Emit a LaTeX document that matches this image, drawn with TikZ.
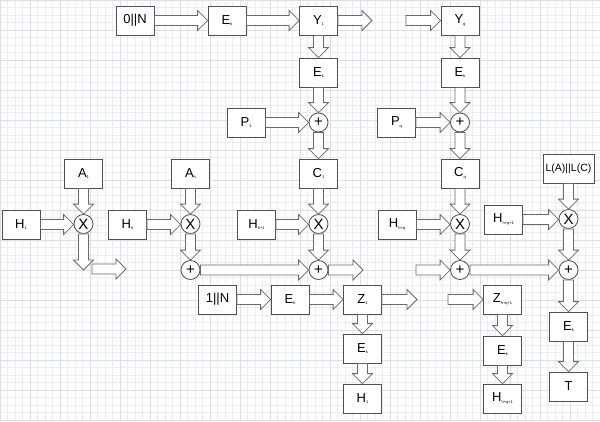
\documentclass[tikz,border=0pt]{standalone}
\usepackage{fontspec}
\setmainfont{Liberation Sans}
\usetikzlibrary{calc}
\definecolor{gridminor}{HTML}{ECECF7}
\definecolor{gridmajor}{HTML}{DCDCEE}
\definecolor{boxline}{HTML}{505050}
\definecolor{arrline}{HTML}{6A6A6A}
\newcommand\ssub[1]{\raisebox{-1.5pt}{\fontsize{4}{4}\selectfont #1}}
\newcommand\harr[2]{\draw[fatarrow] let \p1=(#1), \p2=(#2) in (\x1,\y1+5pt) -- (\x2-10pt,\y1+5pt) -- (\x2-10pt,\y1+10pt) -- (\x2,\y1) -- (\x2-10pt,\y1-10pt) -- (\x2-10pt,\y1-5pt) -- (\x1,\y1-5pt) -- cycle;}
\newcommand\varr[2]{\draw[fatarrow] let \p1=(#1), \p2=(#2) in (\x1-5pt,\y1) -- (\x1-5pt,\y2+10pt) -- (\x1-10pt,\y2+10pt) -- (\x1,\y2) -- (\x1+10pt,\y2+10pt) -- (\x1+5pt,\y2+10pt) -- (\x1+5pt,\y1) -- cycle;}
\tikzset{
  box/.style={draw=boxline, line width=0.8pt, fill=white, minimum width=38pt, minimum height=29pt, inner sep=1pt, font=\fontsize{13}{15}\selectfont},
  op/.style={draw=boxline, line width=0.8pt, fill=white, circle, minimum size=19pt, inner sep=0pt, font=\fontsize{15}{15}\selectfont},
  fatarrow/.style={draw=arrline, line width=0.8pt, fill=white, line join=miter},
}
\begin{document}
\begin{tikzpicture}[x=1pt,y=-1pt]
\useasboundingbox (0,0) rectangle (600,421);
\fill[white] (0,0) rectangle (600,421);
\draw[gridminor, line width=0.4pt, step=7.5pt] (0,0) grid (600,421);
\draw[gridmajor, line width=0.5pt, step=30pt] (0,0) grid (600,421);
% row 1
\node[box] (n0) at (135,20.5) {0||N};
\node[box] (e1) at (227,20.5) {E\ssub{k}};
\node[box] (y1) at (318.5,20.5) {Y\ssub{1}};
\node[box] (yq) at (460,20.5) {Y\ssub{q}};
\coordinate (y1out) at (372,20.5);
\coordinate (yqin) at (406,20.5);
\node[box] (ek1) at (318.5,72.5) {E\ssub{k}};
\node[box] (ekq) at (460,72.5) {E\ssub{k}};
\node[box] (p1) at (246,122.5) {P\ssub{1}};
\node[op] (plus1) at (318.5,122.5) {+};
\node[box] (pq) at (396.5,122.5) {P\ssub{q}};
\node[op] (plusq) at (460,122.5) {+};
\node[box] (c1) at (318.5,173.5) {C\ssub{1}};
\node[box] (cq) at (460,173.5) {C\ssub{q}};
\node[box] (a1) at (83.5,173.5) {A\ssub{1}};
\node[box] (ah) at (190.5,173.5) {A\ssub{h}};
\node[box, minimum width=51pt, font=\fontsize{10.5}{12}\selectfont] (lac) at (568.5,168.5) {L(A)||L(C)};
% X row
\node[box] (h1) at (21,224.5) {H\ssub{1}};
\node[op] (x1) at (83.5,224) {X};
\node[box] (hh) at (127.5,224.5) {H\ssub{h}};
\node[op] (xh) at (190.5,224) {X};
\node[box] (hh1) at (256.5,224.5) {H\ssub{h+1}};
\node[op] (xc1) at (318.5,224) {X};
\node[box] (hhq) at (397,224.5) {H\ssub{h+q}};
\node[op] (xcq) at (460,224) {X};
\node[box] (hhq1) at (503.5,219.5) {H\ssub{h+q+1}};
\node[op] (xl) at (568.5,219) {X};
% plus row
\coordinate (x1down) at (83.5,270);
\coordinate (lstart) at (92,269);
\coordinate (lend) at (126,269);
\node[op] (ph) at (190.5,270) {+};
\node[op] (pc1) at (318.5,270) {+};
\node[op] (pcq) at (460,270) {+};
\node[op] (pl) at (568.5,270) {+};
\coordinate (pc1out) at (363,270);
\coordinate (pcqin) at (416,270);
% bottom
\node[box] (n1) at (217.5,299.5) {1||N};
\node[box] (e2) at (290,299.5) {E\ssub{k}};
\node[box] (z1) at (362.5,299.5) {Z\ssub{1}};
\coordinate (z1out) at (417,299.5);
\node[box] (zq) at (502.5,299.5) {Z\ssub{h+q+1}};
\coordinate (zqin) at (448,299.5);
\node[box] (ez1) at (362.5,348.5) {E\ssub{k}};
\node[box] (hb1) at (362.5,398.5) {H\ssub{1}};
\node[box] (ezq) at (502.5,350.5) {E\ssub{k}};
\node[box] (hbq) at (502.5,398.5) {H\ssub{h+q+1}};
\node[box] (el) at (568.5,326.5) {E\ssub{k}};
\node[box] (t) at (568.5,386.5) {T};
% arrows row 1
\harr{n0.east}{e1.west}
\harr{e1.east}{y1.west}
\harr{y1.east}{y1out}
\harr{yqin}{yq.west}
\varr{y1.south}{ek1.north}
\varr{yq.south}{ekq.north}
\varr{ek1.south}{plus1.north}
\varr{ekq.south}{plusq.north}
\harr{p1.east}{plus1.west}
\harr{pq.east}{plusq.west}
\varr{plus1.south}{c1.north}
\varr{plusq.south}{cq.north}
\varr{c1.south}{xc1.north}
\varr{cq.south}{xcq.north}
\varr{a1.south}{x1.north}
\varr{ah.south}{xh.north}
\varr{lac.south}{xl.north}
\harr{h1.east}{x1.west}
\harr{hh.east}{xh.west}
\harr{hh1.east}{xc1.west}
\harr{hhq.east}{xcq.west}
\harr{hhq1.east}{xl.west}
\varr{x1.south}{x1down}
\harr{lstart}{lend}
\varr{xh.south}{ph.north}
\varr{xc1.south}{pc1.north}
\varr{xcq.south}{pcq.north}
\varr{xl.south}{pl.north}
\harr{ph.east}{pc1.west}
\harr{pc1.east}{pc1out}
\harr{pcqin}{pcq.west}
\harr{pcq.east}{pl.west}
\varr{pl.south}{el.north}
\varr{el.south}{t.north}
% bottom arrows
\harr{n1.east}{e2.west}
\harr{e2.east}{z1.west}
\harr{z1.east}{z1out}
\harr{zqin}{zq.west}
\varr{z1.south}{ez1.north}
\varr{ez1.south}{hb1.north}
\varr{zq.south}{ezq.north}
\varr{ezq.south}{hbq.north}
\end{tikzpicture}
\end{document}
